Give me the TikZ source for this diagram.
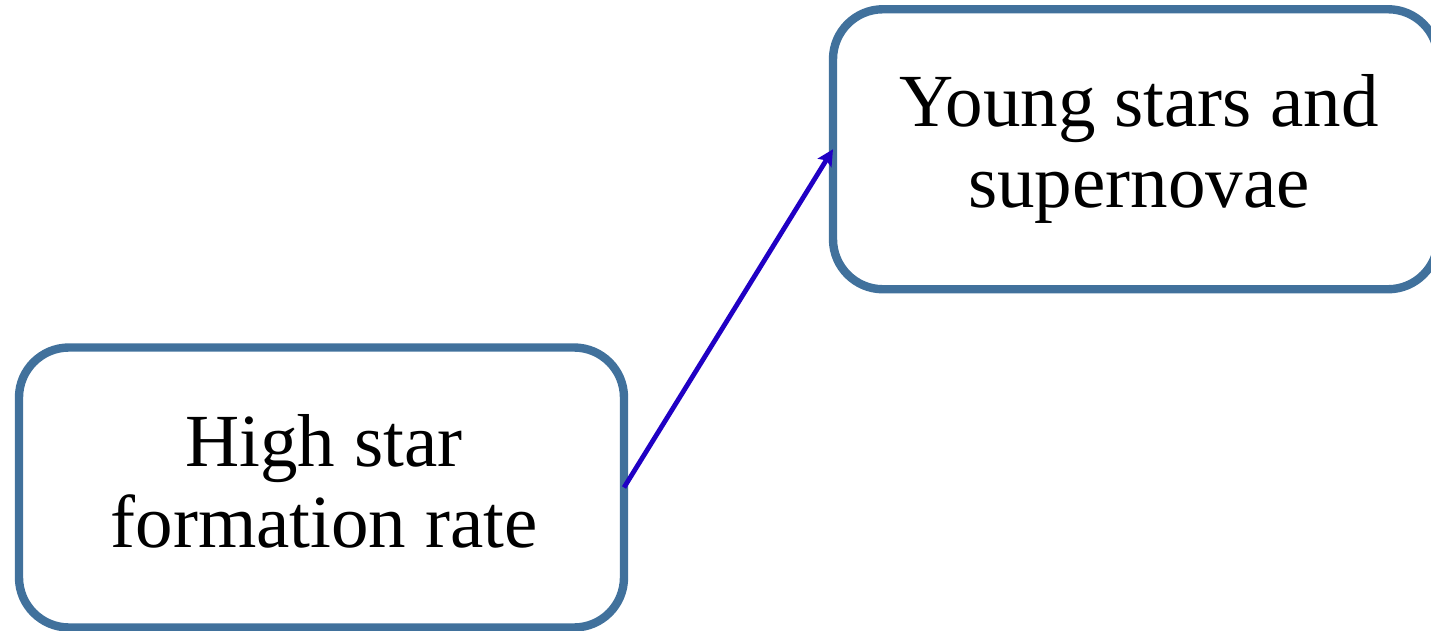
\documentclass[tikz,border=0pt]{standalone}
\usepackage{fontspec}
\setmainfont{Liberation Serif}
\usetikzlibrary{arrows.meta}
\definecolor{boxblue}{HTML}{41719C}
\definecolor{arrblue}{HTML}{2000C4}
\tikzset{
  box/.style={draw=boxblue, line width=4.2pt, rounded corners=25pt, rectangle,
    minimum width=302.5pt, minimum height=140pt, inner sep=0pt, outer sep=0pt},
  lbl/.style={align=center, anchor=base, inner sep=0pt,
    font=\fontsize{37.5}{40.5}\selectfont},
  conn/.style={draw=arrblue, line width=2.4pt,
    -{Stealth[length=8pt,width=8pt,inset=1.5pt]}}
}
\begin{document}
\begin{tikzpicture}[x=0.5pt,y=-0.5pt]
\useasboundingbox (0,0) rectangle (1431,631);
\node[box] (hsfr) at (321.5,487.5) {};
\node[box] (ys) at (1135.5,149.25) {};
\node[lbl] (t1) at (324,547) {High star\\formation rate};
\node[lbl] (t2) at (1139,207) {Young stars and\\supernovae};
\draw[conn] (hsfr.east) -- (ys.west);
\end{tikzpicture}
\end{document}
